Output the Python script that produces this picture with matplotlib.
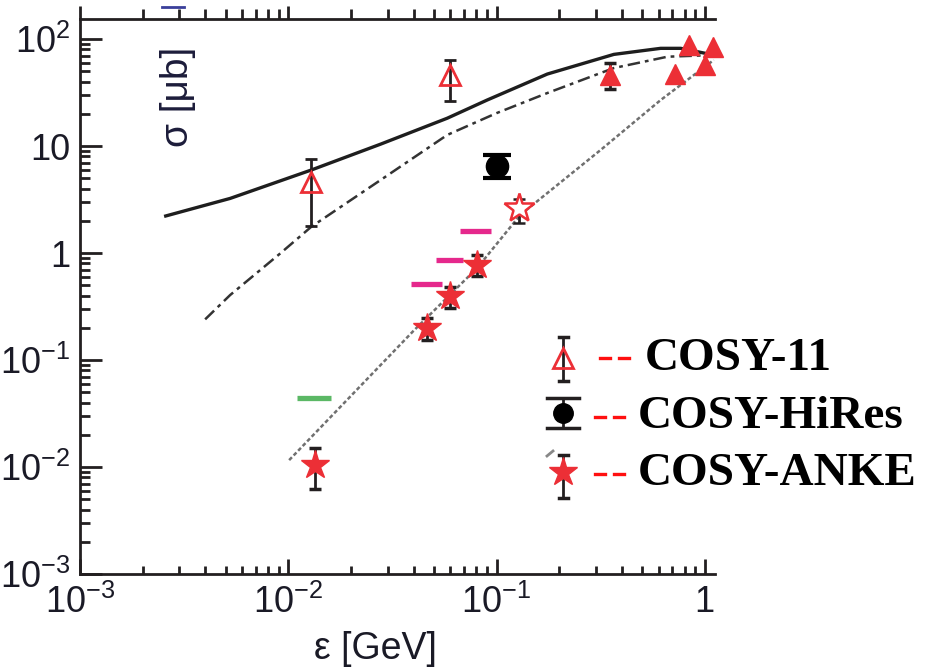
import matplotlib
matplotlib.use("Agg")
import matplotlib.pyplot as plt
import matplotlib.transforms as mtransforms
from matplotlib.lines import Line2D
import numpy as np

plt.rcParams['font.family'] = ['Liberation Sans', 'DejaVu Sans']
plt.rcParams['mathtext.fontset'] = 'custom'
plt.rcParams['mathtext.rm'] = 'Liberation Sans'
plt.rcParams['mathtext.it'] = 'Liberation Sans:italic'

# ---- data ----
# COSY-11 (open triangles)
c11_x = [0.0129, 0.0598]
c11_y = [4.6, 46.0]
c11_lo = [1.79, 26.4]
c11_hi = [7.56, 63.6]

# filled triangles at high energy
tri_x = [0.351, 0.719, 0.836, 1.0, 1.10]
tri_y = [46.0, 46.8, 88.0, 57.0, 85.0]
tri_err_x = [0.351]
tri_err_y = [46.0]
tri_err_lo = [33.9]
tri_err_hi = [60.0]

# open star
ostar_x = [0.128]
ostar_y = [2.64]
ostar_lo = [1.90]
ostar_hi = [3.18]

# COSY-HiRes
hires_x = [0.1007]
hires_y = [6.55]
hires_lo = [5.06]
hires_hi = [8.24]

# COSY-ANKE (filled stars)
anke_x = [0.01337, 0.0465, 0.0598, 0.0807]
anke_y = [0.01044, 0.198, 0.399, 0.773]
anke_lo = [0.0062, 0.153, 0.304, 0.61]
anke_hi = [0.01496, 0.248, 0.478, 0.957]

# short horizontal bars
mag_xmin = [0.0671, 0.0515, 0.039]
mag_xmax = [0.0943, 0.0692, 0.055]
mag_y = [1.616, 0.861, 0.513]
grn_xmin = [0.01104]
grn_xmax = [0.0161]
grn_y = [0.0441]

# model curves
solid_x = [0.00258, 0.00526, 0.0129, 0.0277, 0.058, 0.0901, 0.1754, 0.366, 0.614, 0.767, 1.105]
solid_y = [2.22, 3.24, 5.97, 10.4, 18.2, 26.9, 47.1, 71.9, 81.9, 81.9, 70.9]
dashdot_x = [0.00399, 0.00526, 0.00916, 0.0129, 0.0277, 0.058, 0.1, 0.1754, 0.366, 0.662, 1.105]
dashdot_y = [0.24, 0.405, 0.993, 1.76, 4.8, 12.7, 20.3, 31.3, 53.6, 68.4, 70.9]
dotted_x = [0.0101, 0.0399, 0.0807, 0.130, 0.316, 0.614, 1.105]
dotted_y = [0.0116, 0.187, 0.724, 2.27, 9.18, 26.9, 63.7]

xticks = [1e-3, 1e-2, 1e-1, 1]
xticklabels = ['$10^{-3}$', '$10^{-2}$', '$10^{-1}$', '1']
yticks = [1e-3, 1e-2, 1e-1, 1, 10, 100]
yticklabels = ['$10^{-3}$', '$10^{-2}$', '$10^{-1}$', '1', '10', '$10^{2}$']

W, H = 934, 672
fig = plt.figure(figsize=(W / 100, H / 100), dpi=100)
ax = fig.add_axes([80 / W, 1 - 574 / H, 635 / W, 555 / H])
ax.set_xscale('log')
ax.set_yscale('log')
ax.set_xlim(1e-3, 1.12)
ax.set_ylim(1e-3, 154)

red = '#ec2f36'
ebc = '#231f20'

# curves
ax.plot(solid_x, solid_y, color='#1e1e1e', lw=2.4, zorder=2)
ax.plot(dashdot_x, dashdot_y, color='#333333', lw=1.8, ls=(0, (5, 2, 1.5, 2)), zorder=2)
ax.plot(dotted_x, dotted_y, color='#707070', lw=1.8, ls=(0, (1.6, 1.0)), zorder=2)

# bars
ax.hlines(mag_y, mag_xmin, mag_xmax, color='#e5288c', lw=3.8, zorder=2)
ax.hlines(grn_y, grn_xmin, grn_xmax, color='#5bb865', lw=3.8, zorder=2)


def yerr(y, lo, hi):
    y = np.array(y)
    return [y - np.array(lo), np.array(hi) - y]


# data points
ax.errorbar(c11_x, c11_y, yerr=yerr(c11_y, c11_lo, c11_hi), fmt='^', ms=15,
            mfc='none', mec=red, mew=2, ecolor=ebc, elinewidth=2, capsize=4, capthick=2.5, zorder=4)
ax.errorbar(tri_err_x, tri_err_y, yerr=yerr(tri_err_y, tri_err_lo, tri_err_hi), fmt='none',
            ecolor=ebc, elinewidth=2, capsize=4, capthick=2.5, zorder=3)
ax.plot(tri_x, tri_y, '^', ms=15, color=red, mec=red, zorder=4, clip_on=False)
ax.errorbar(ostar_x, ostar_y, yerr=yerr(ostar_y, ostar_lo, ostar_hi), fmt='*', ms=22,
            mfc='white', mec=red, mew=1.8, ecolor=ebc, elinewidth=2, capsize=4, capthick=2.5, zorder=4)
ax.errorbar(hires_x, hires_y, yerr=yerr(hires_y, hires_lo, hires_hi), fmt='o', ms=16,
            color='black', ecolor='black', elinewidth=2, capsize=10, capthick=3, zorder=4)
ax.errorbar(anke_x, anke_y, yerr=yerr(anke_y, anke_lo, anke_hi), fmt='*', ms=21,
            color=red, mec=red, ecolor=ebc, elinewidth=2, capsize=4, capthick=2.5, zorder=4)

# axes styling
ax.spines['right'].set_visible(False)
ax.spines['top'].set_visible(False)
for s in ['left', 'bottom']:
    ax.spines[s].set_linewidth(2)
    ax.spines[s].set_color('#231f20')
ax.set_xticks(xticks)
ax.set_xticklabels(xticklabels)
ax.set_yticks(yticks)
ax.set_yticklabels(yticklabels)
ax.tick_params(axis='both', which='both', direction='in', color='#231f20', width=2,
               labelsize=26, labelcolor='#1a1a26')
ax.tick_params(axis='x', which='major', length=11, pad=8)
ax.tick_params(axis='x', which='minor', length=5.5)
ax.tick_params(axis='y', which='major', length=16, pad=7)
ax.tick_params(axis='y', which='minor', length=7)
ax.tick_params(right=False, top=False, which='both')

# top axis with outward ticks
ax2 = ax.twiny()
ax2.set_xscale('log')
ax2.set_xlim(ax.get_xlim())
ax2.set_xticks(xticks)
ax2.tick_params(axis='x', which='both', direction='out', color='#231f20', width=2,
                labeltop=False, labelbottom=False)
ax2.tick_params(axis='x', which='major', length=9.5)
ax2.tick_params(axis='x', which='minor', length=7)
for s in ['left', 'right', 'bottom']:
    ax2.spines[s].set_visible(False)
ax2.spines['top'].set_linewidth(2)
ax2.spines['top'].set_color('#231f20')

# axis labels
ax.set_xlabel('ε [GeV]', fontsize=27, color='#1a1a26')
ax.xaxis.set_label_coords(0.465, -0.102)
ax.text(0.154, 0.86, 'σ [μb]', transform=ax.transAxes, rotation=90, fontsize=28,
        color='#1c1c3a', ha='center', va='center')

# legend drawn in pixel coordinates (origin top-left)
px = mtransforms.Affine2D().scale(1 / W, -1 / H).translate(0, 1) + fig.transFigure


def seg(xs, ys, **kw):
    fig.add_artist(Line2D(xs, ys, transform=px, **kw))


def leg_err(x, y0, y1, half):
    seg([x, x], [y0, y1], color=ebc, lw=2)
    seg([x - half, x + half], [y0, y0], color=ebc, lw=2.5)
    seg([x - half, x + half], [y1, y1], color=ebc, lw=2.5)


leg_err(563, 337, 381, 4.5)
seg([563], [358], marker='^', ms=15, mfc='none', mec=red, mew=2, ls='none')
leg_err(563, 398, 428, 16)
seg([563], [413], marker='o', ms=14, color='black', ls='none')
seg([547, 553], [456, 451], color='#888888', lw=2)
leg_err(563, 455, 498, 4.5)
seg([563], [472], marker='*', ms=21, color=red, ls='none')

for (x0, y) in [(600, 358), (595, 417), (595, 474)]:
    seg([x0, x0 + 10], [y, y], color='#ff1010', lw=2.4)
    seg([x0 + 19, x0 + 29], [y, y], color='#ff1010', lw=2.4)

leg_font = dict(family=['Liberation Serif', 'DejaVu Serif'], fontweight='bold', fontsize=34,
                color='black', va='baseline', ha='left', transform=px)
fig.text(645, 370, 'COSY-11', **leg_font)
fig.text(638, 428, 'COSY-HiRes', **leg_font)
fig.text(638, 485, 'COSY-ANKE', **leg_font)

# small blue fragment at the top edge
seg([162, 184], [7, 7], color='#3a3f9a', lw=2)

fig.savefig('out.png', dpi=100)
